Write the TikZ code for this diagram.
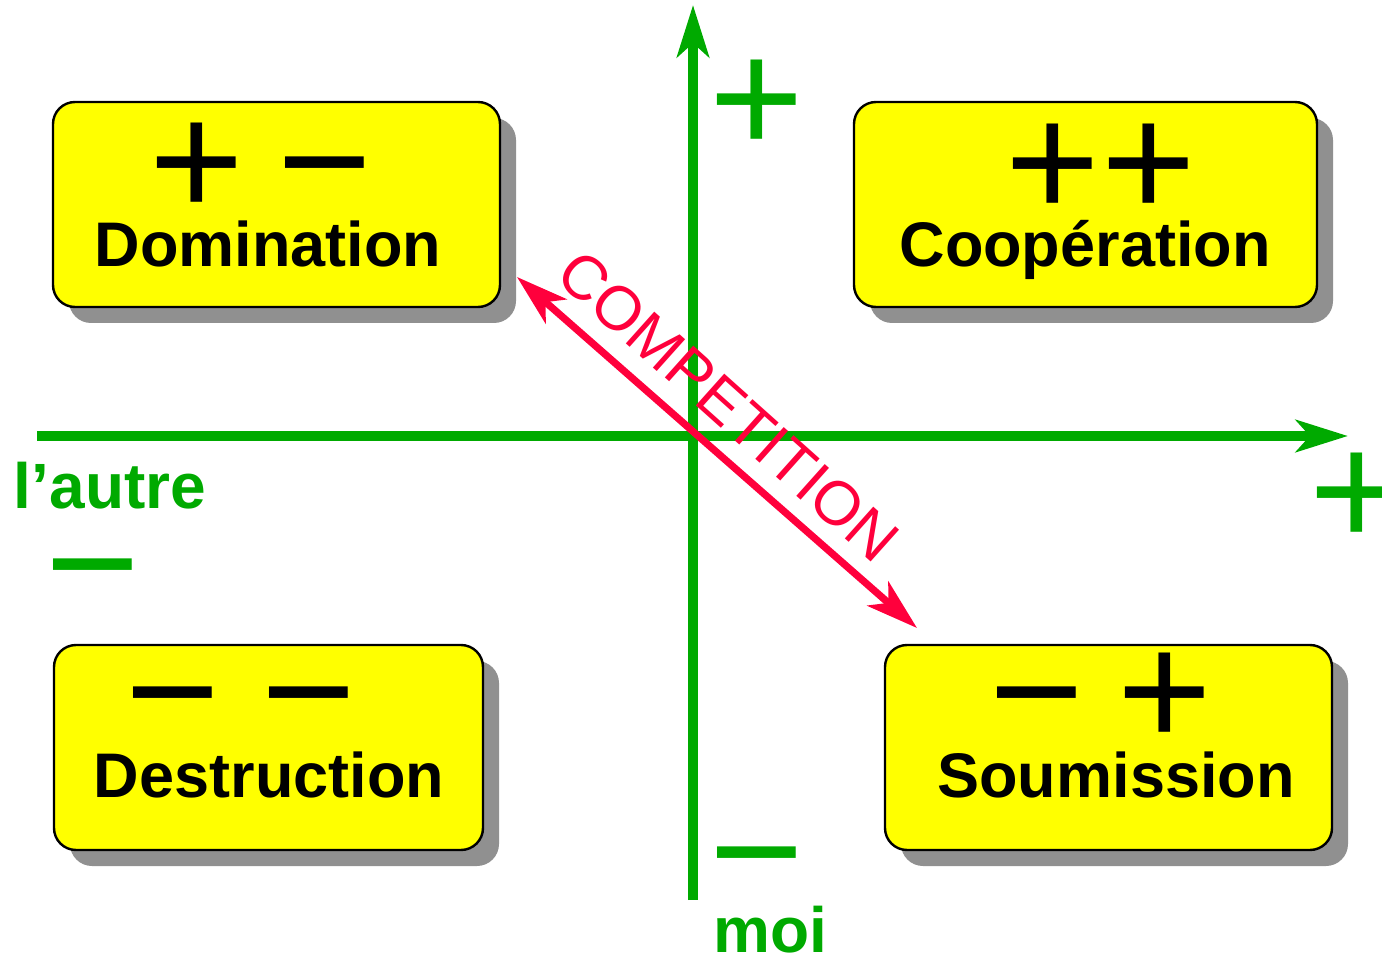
\documentclass[tikz,border=0pt]{standalone}
\usepackage{fontspec}
\setmainfont{Liberation Sans}
\usetikzlibrary{arrows.meta,shadows}
\definecolor{axgreen}{RGB}{0,170,0}
\definecolor{compred}{RGB}{255,0,60}
\definecolor{boxyellow}{RGB}{255,255,0}
\definecolor{shadowgrey}{RGB}{144,144,144}
\begin{document}
\begin{tikzpicture}[x=0.5pt,y=-0.5pt,
  quadbox/.style={draw=black, line width=1.2pt, fill=boxyellow, rounded corners=11pt,
    inner sep=0pt, minimum height=102.5pt,
    drop shadow={shadow xshift=8pt, shadow yshift=-8pt, fill=shadowgrey, opacity=1}},
  sym/.style={font=\fontsize{81}{81}\selectfont, anchor=base, yshift=-27pt, inner sep=0pt},
  gsym/.style={sym, text=axgreen},
  lbl/.style={font=\fontsize{31.5}{32}\selectfont\bfseries, anchor=base, inner sep=0pt},
  glbl/.style={font=\fontsize{32}{32}\selectfont\bfseries, text=axgreen, anchor=base, inner sep=0pt},
  axis/.style={draw=axgreen, line width=5pt, -{Stealth[length=26pt,width=16pt,inset=7pt]}},
  comparrow/.style={draw=compred, line width=3.6pt,
    {Stealth[length=26pt,width=16pt,inset=7pt]}-{Stealth[length=26pt,width=16pt,inset=7pt]}},
  comptext/.style={font=\fontsize{31}{31}\selectfont, text=compred, anchor=base, inner sep=0pt, rotate=-41.8}
]
\useasboundingbox (0,0) rectangle (1382,957);

% axes
\coordinate (xstart) at (37,436);
\coordinate (xend) at (1348,436);
\coordinate (ystart) at (693,900);
\coordinate (yend) at (693,5);
\draw[axis] (xstart) -- (xend);
\draw[axis] (ystart) -- (yend);

% axis signs and labels
\node[gsym] (yplus) at (757,100) {+};
\node[gsym] (xplus) at (1357,492) {+};
\node[gsym] (yminus) at (757,852) {−};
\node[gsym] (xminus) at (93,564) {−};
\node[glbl] (autre) at (110,508) {l’autre};
\node[glbl] (moi) at (770,952) {moi};

% boxes
\node[quadbox, minimum width=223.5pt] (dom) at (276.5,204.5) {};
\node[quadbox, minimum width=231.5pt] (coop) at (1085.5,204.5) {};
\node[quadbox, minimum width=214.5pt] (dest) at (268.5,747.5) {};
\node[quadbox, minimum width=223.5pt] (soum) at (1108.5,747.5) {};

\node[sym] (domA) at (197,163) {+};
\node[sym] (domB) at (325,163) {−};
\node[lbl] (domT) at (268,267) {Domination};

\node[sym] (coopA) at (1053,164) {+};
\node[sym] (coopB) at (1149,164) {+};
\node[lbl] (coopT) at (1085,267) {Coopération};

\node[sym] (destA) at (173,692) {−};
\node[sym] (destB) at (309,692) {−};
\node[lbl] (destT) at (269,797) {Destruction};

\node[sym] (soumA) at (1037,692) {−};
\node[sym] (soumB) at (1165,692) {+};
\node[lbl] (soumT) at (1116,797) {Soumission};

% competition
\coordinate (compA) at (517,277);
\coordinate (compB) at (917,628);
\draw[comparrow] (compA) -- (compB);
\node[comptext] (comp) at (714,422) {COMPETITION};
\end{tikzpicture}
\end{document}
